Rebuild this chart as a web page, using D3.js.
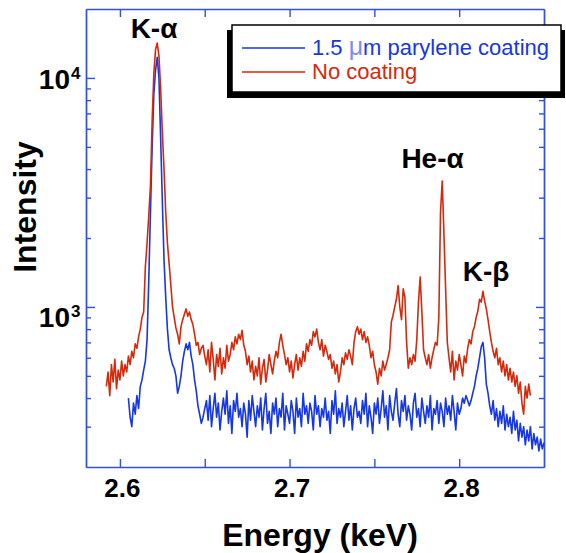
<!DOCTYPE html>
<html>

<head>
    <script type="text/javascript" src="https://d3js.org/d3.v7.min.js"></script>
    <style type="text/css">
        body {
            margin: 0;
            background: #fff;
        }

        .axis path,
        .axis line {
            stroke: #2f4fe8;
            stroke-width: 1.4px;
            fill: none;
        }

        .label {
            font-family: "Liberation Sans", Arial, Helvetica, sans-serif;
            font-weight: bold;
            fill: #000;
        }

        .legend text {
            font-family: "Liberation Sans", Arial, Helvetica, sans-serif;
            font-size: 22px;
        }

        .trace {
            fill: none;
            stroke-width: 1.6px;
            stroke-linejoin: round;
        }
    </style>
</head>

<body>
<div id="chart"></div>

<script type="text/javascript">
    // spectra, one value per 1 eV channel
    var channel = 0.001;

    // 1.5 um parylene coating, first channel at 2.605 keV
    var coatedStart = 2.605;
    var coated = [
        400, 330, 300, 380, 340, 410, 360, 450, 480, 530,
        580, 720, 1300, 2600, 5000, 8500, 10800, 12300, 10000, 5500,
        2900, 1600, 1100, 800, 650, 600, 560, 540, 500, 420,
        450, 500, 580, 640, 690, 650, 700, 610, 560, 480,
        430, 370, 340, 310, 330, 360, 390, 320, 410, 300,
        360, 420, 330, 380, 290, 350, 400, 340, 430, 310,
        370, 280, 390, 350, 420, 330, 360, 300, 380, 340,
        270, 390, 320, 410, 350, 300, 370, 330, 400, 290,
        360, 420, 310, 350, 280, 380, 340, 400, 300, 360,
        330, 420, 290, 370, 340, 310, 390, 350, 280, 400,
        330, 360, 300, 420, 340, 370, 310, 380, 350, 290,
        410, 340, 370, 300, 360, 330, 400, 320, 350, 280,
        390, 340, 430, 310, 360, 330, 380, 300, 350, 410,
        320, 370, 290, 360, 400, 330, 350, 310, 390, 340,
        420, 300, 370, 330, 280, 380, 340, 400, 310, 360,
        430, 330, 370, 290, 410, 350, 320, 380, 440, 340,
        300, 390, 350, 410, 320, 370, 340, 290, 380, 420,
        330, 360, 300, 400, 350, 310, 370, 330, 410, 290,
        360, 340, 390, 310, 380, 350, 300, 400, 340, 370,
        320, 410, 350, 290, 380, 340, 360, 400, 380, 410,
        390, 370, 390, 420, 450, 500, 540, 600, 670, 700,
        600, 460, 420, 370, 340, 390, 320, 360, 300, 350,
        310, 370, 290, 340, 300, 330, 280, 350, 290, 320,
        260, 310, 270, 300, 250, 290, 260, 300, 240, 280,
        250, 270, 235, 265, 240, 255
    ];

    // no coating, first channel at 2.592 keV
    var bareStart = 2.592;
    var bare = [
        450, 520, 410, 560, 470, 590, 440, 530, 480, 580,
        500, 560, 520, 610, 560, 640, 600, 690, 660, 740,
        800, 900, 950, 1500, 1900, 2500, 3400, 6500, 10500, 13300,
        14200, 12500, 9000, 5800, 4000, 2600, 1900, 1550, 1250, 1000,
        900, 810, 760, 690, 820, 880, 930, 980, 910, 950,
        880, 840, 760, 680, 700, 620, 660, 680, 610, 560,
        650, 520, 700, 590, 480, 620, 550, 660, 510, 600,
        540, 680, 580, 620, 700, 650, 740, 690, 760, 720,
        790, 680, 640, 560, 610, 520, 580, 480, 550, 500,
        600, 460, 540, 590, 470, 530, 620, 560, 510, 580,
        640, 600, 700, 760, 680, 620, 560, 600, 520, 580,
        490, 560, 620, 530, 600, 550, 640, 580, 690, 640,
        720, 680, 780, 740, 800, 700, 650, 720, 610, 680,
        640, 590, 620, 540, 580, 510, 560, 470, 520, 600,
        560, 630, 590, 650, 610, 560, 700, 780, 820, 760,
        800, 720, 780, 700, 740, 680, 600, 640, 560, 520,
        460, 540, 500, 580, 530, 560, 600, 650, 860, 920,
        1000, 1080, 1240, 1000, 880, 1200, 1100, 700, 540, 600,
        560, 620, 580, 720, 1050, 1350, 950, 650, 600, 560,
        620, 540, 600, 650, 700, 680, 900, 2600, 3550, 2100,
        1200, 700, 600, 520, 640, 480, 580, 530, 620, 560,
        500, 610, 570, 660, 720, 690, 780, 820, 900, 960,
        1080, 1050, 1170, 1060, 980, 880, 780, 700, 640, 600,
        660, 560, 600, 520, 580, 500, 560, 480, 540, 470,
        520, 450, 500, 420, 470, 380, 340, 450, 400, 460,
        410
    ];

    var xTicks = [2.6, 2.65, 2.7, 2.75, 2.8];
    var xTickLabels = ["2.6", "", "2.7", "", "2.8"];
    var yMajor = [1000, 10000];
    var yExponents = ["3", "4"];

    var seriesNames = ["1.5 \u03bcm parylene coating", "No coating"];
    var peakNames = ["K-\u03b1", "He-\u03b1", "K-\u03b2"];
    var peakEnergies = [2.6201, 2.7843, 2.8159];
    var peakHeights = [15000, 4050, 1300];

    var w = 566,
        h = 553;
    var blue = "#1637e4",
        red = "#d6290c";

    var svg = d3.select("#chart")
        .append("svg")
        .attr("width", w)
        .attr("height", h);

    var x = d3.scaleLinear().domain([2.58, 2.85]).range([86, 544]);
    var y = d3.scaleLog().domain([200, 20000]).range([467, 9]);

    function toPoints(start, values) {
        return values.map(function(v, i) {
            return [start + i * channel, v];
        });
    }

    var line = d3.line()
        .x(function(d) { return x(d[0]); })
        .y(function(d) { return y(d[1]); });

    // axes, ticks inward on all four sides
    var yMinor = y.ticks().filter(function(d) {
        return yMajor.indexOf(d) < 0 && d > 200 && d < 20000;
    });
    var axes = svg.append("g").attr("class", "axis");
    axes.append("g")
        .attr("transform", "translate(0," + y.range()[0] + ")")
        .call(d3.axisBottom(x).tickValues(xTicks).tickSize(-8).tickSizeOuter(0).tickFormat(""));
    axes.append("g")
        .attr("transform", "translate(0," + y.range()[1] + ")")
        .call(d3.axisTop(x).tickValues(xTicks).tickSize(-8).tickSizeOuter(0).tickFormat(""));
    axes.append("g")
        .attr("transform", "translate(" + x.range()[0] + ",0)")
        .call(d3.axisLeft(y).tickValues(yMinor).tickSize(-5).tickSizeOuter(0).tickFormat(""));
    axes.append("g")
        .attr("transform", "translate(" + x.range()[0] + ",0)")
        .call(d3.axisLeft(y).tickValues(yMajor).tickSize(-9).tickSizeOuter(0).tickFormat(""));
    axes.append("g")
        .attr("transform", "translate(" + x.range()[1] + ",0)")
        .call(d3.axisRight(y).tickValues(yMinor).tickSize(-5).tickSizeOuter(0).tickFormat(""));
    axes.append("g")
        .attr("transform", "translate(" + x.range()[1] + ",0)")
        .call(d3.axisRight(y).tickValues(yMajor).tickSize(-8).tickSizeOuter(0).tickFormat(""));

    // tick labels
    svg.append("g").selectAll("text")
        .data(xTicks)
        .enter().append("text")
        .attr("class", "label")
        .attr("x", function(d) { return x(d) + 2.5; })
        .attr("y", 497)
        .attr("text-anchor", "middle")
        .style("font-size", "26px")
        .text(function(d, i) { return xTickLabels[i]; });

    var yShift = [20, 11];
    var yLab = svg.append("g").selectAll("g")
        .data(yMajor)
        .enter().append("g");
    yLab.append("text")
        .attr("class", "label")
        .attr("x", 70)
        .attr("y", function(d, i) { return y(d) + yShift[i]; })
        .attr("text-anchor", "end")
        .style("font-size", "28px")
        .text("10");
    yLab.append("text")
        .attr("class", "label")
        .attr("x", 71)
        .attr("y", function(d, i) { return y(d) + yShift[i] - 9.5; })
        .style("font-size", "17px")
        .text(function(d, i) { return yExponents[i]; });

    // axis titles
    svg.append("text")
        .attr("class", "label")
        .attr("x", 320)
        .attr("y", 546)
        .attr("text-anchor", "middle")
        .style("font-size", "32px")
        .text("Energy (keV)");
    svg.append("text")
        .attr("class", "label")
        .attr("transform", "translate(36,207) rotate(-90)")
        .attr("text-anchor", "middle")
        .style("font-size", "32px")
        .text("Intensity");

    // spectra
    svg.append("path")
        .datum(toPoints(coatedStart, coated))
        .attr("class", "trace")
        .attr("stroke", blue)
        .attr("d", line);
    svg.append("path")
        .datum(toPoints(bareStart, bare))
        .attr("class", "trace")
        .attr("stroke", red)
        .attr("d", line);

    // peak names
    svg.append("g").selectAll("text")
        .data(peakNames)
        .enter().append("text")
        .attr("class", "label")
        .attr("x", function(d, i) { return x(peakEnergies[i]); })
        .attr("y", function(d, i) { return y(peakHeights[i]); })
        .attr("text-anchor", "middle")
        .style("font-size", "28px")
        .text(function(d) { return d; });

    // legend
    var legend = svg.append("g").attr("class", "legend");
    legend.append("rect")
        .attr("x", 227).attr("y", 30)
        .attr("width", 338).attr("height", 68)
        .attr("fill", "#000");
    legend.append("rect")
        .attr("x", 232).attr("y", 25)
        .attr("width", 329).attr("height", 67)
        .attr("fill", "#fff")
        .attr("stroke", "#000")
        .attr("stroke-width", 1.5);

    var colors = [blue, red];
    var item = legend.selectAll(".item")
        .data(seriesNames)
        .enter().append("g")
        .attr("class", "item")
        .attr("transform", function(d, i) { return "translate(0," + (48 + i * 24) + ")"; });
    item.append("line")
        .attr("x1", 242).attr("x2", 305)
        .attr("y1", 0).attr("y2", 0)
        .attr("stroke", function(d, i) { return colors[i]; })
        .attr("stroke-width", 1.4);
    item.append("text")
        .attr("x", 312)
        .attr("y", 7)
        .attr("fill", function(d, i) { return colors[i]; })
        .each(function(d) {
            var t = d3.select(this);
            var k = d.indexOf("\u03bc");
            if (k < 0) {
                t.text(d);
                return;
            }
            t.append("tspan").text(d.slice(0, k));
            t.append("tspan").attr("fill", "#7c8cf2").style("font-size", "25px").text("\u03bc");
            t.append("tspan").text(d.slice(k + 1));
        });
</script>
</body>

</html>
